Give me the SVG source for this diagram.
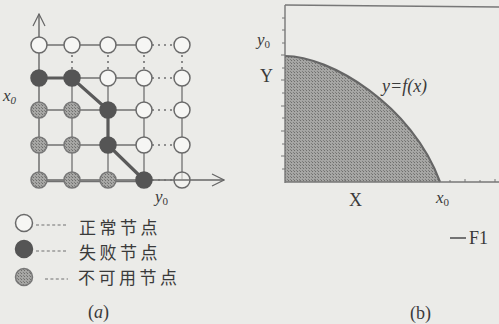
<svg xmlns="http://www.w3.org/2000/svg" width="499" height="324" viewBox="0 0 499 324">
<defs>
<pattern id="hatch" width="3" height="3" patternUnits="userSpaceOnUse">
<rect width="3" height="3" fill="#a6a6a4"/>
<rect width="1" height="1" fill="#6e6e6c"/>
<rect x="2" y="2" width="1" height="1" fill="#7e7e7c"/>
</pattern>
<marker id="open" viewBox="0 0 14 14" refX="13" refY="7" markerWidth="14" markerHeight="14" markerUnits="userSpaceOnUse" orient="auto">
<path d="M1,1 L13,7 L1,13" fill="none" stroke="#666" stroke-width="1.2"/>
</marker>
</defs>
<style>
.g{stroke:#707070;stroke-width:1.3;fill:none}
.d{stroke:#707070;stroke-width:1.6;fill:none;stroke-dasharray:2 4}
.ld{stroke:#707070;stroke-width:1.1;fill:none;stroke-dasharray:3 2.4}
.ok{fill:#f6f6f4;stroke:#6a6a6a;stroke-width:1.5}
.bad{fill:#555;stroke:#555;stroke-width:1.5}
.na{fill:url(#hatch);stroke:#777;stroke-width:1.5}
.path{stroke:#5a5a5a;stroke-width:3.2;fill:none}
.it{font-family:"Liberation Serif",serif;font-style:italic;fill:#3a3a3a}
.rm{font-family:"Liberation Serif",serif;fill:#3a3a3a}
.cn{font-family:"Noto Sans CJK SC",sans-serif;font-size:17px;letter-spacing:3.5px;fill:#3a3a3a}
.ax{stroke:#666;stroke-width:1.4;fill:none}
</style>
<rect width="499" height="324" fill="#ebebe8"/>

<g id="connectors">
<line class="ax" x1="39" y1="182" x2="39" y2="14" marker-end="url(#open)"/>
<line class="ax" x1="39" y1="180" x2="224" y2="180" marker-end="url(#open)"/>
<line class="g" x1="39" y1="45" x2="144" y2="45"/>
<line class="g" x1="39" y1="78" x2="144" y2="78"/>
<line class="g" x1="39" y1="110" x2="144" y2="110"/>
<line class="g" x1="39" y1="145" x2="144" y2="145"/>
<line class="d" x1="152" y1="45" x2="174" y2="45"/>
<line class="d" x1="152" y1="78" x2="174" y2="78"/>
<line class="d" x1="152" y1="110" x2="174" y2="110"/>
<line class="d" x1="152" y1="145" x2="174" y2="145"/>
<line class="d" x1="152" y1="180" x2="174" y2="180"/>
<line class="d" x1="72" y1="55" x2="72" y2="70"/>
<line class="d" x1="108" y1="55" x2="108" y2="70"/>
<line class="d" x1="144" y1="55" x2="144" y2="70"/>
<line class="d" x1="182" y1="55" x2="182" y2="70"/>
<line class="g" x1="72" y1="78" x2="72" y2="180"/>
<line class="g" x1="108" y1="78" x2="108" y2="180"/>
<line class="g" x1="144" y1="78" x2="144" y2="180"/>
<line class="g" x1="182" y1="78" x2="182" y2="180"/>
<polyline class="path" points="39,78 72,78 108,110 108,145 144,180"/>
<line class="g" x1="39" y1="181.5" x2="144" y2="181.5"/>
</g>

<g id="nodes-a">
<circle id="n11" class="ok" cx="39" cy="45" r="8"/>
<circle id="n12" class="ok" cx="72" cy="45" r="8"/>
<circle id="n13" class="ok" cx="108" cy="45" r="8"/>
<circle id="n14" class="ok" cx="144" cy="45" r="8"/>
<circle id="n15" class="ok" cx="182" cy="45" r="8"/>
<circle id="n21" class="bad" cx="39" cy="78" r="8"/>
<circle id="n22" class="bad" cx="72" cy="78" r="8"/>
<circle id="n23" class="ok" cx="108" cy="78" r="8"/>
<circle id="n24" class="ok" cx="144" cy="78" r="8"/>
<circle id="n25" class="ok" cx="182" cy="78" r="8"/>
<circle id="n31" class="na" cx="39" cy="110" r="8"/>
<circle id="n32" class="na" cx="72" cy="110" r="8"/>
<circle id="n33" class="bad" cx="108" cy="110" r="8"/>
<circle id="n34" class="ok" cx="144" cy="110" r="8"/>
<circle id="n35" class="ok" cx="182" cy="110" r="8"/>
<circle id="n41" class="na" cx="39" cy="145" r="8"/>
<circle id="n42" class="na" cx="72" cy="145" r="8"/>
<circle id="n43" class="bad" cx="108" cy="145" r="8"/>
<circle id="n44" class="ok" cx="144" cy="145" r="8"/>
<circle id="n45" class="ok" cx="182" cy="145" r="8"/>
<circle id="n51" class="na" cx="39" cy="180" r="8"/>
<circle id="n52" class="na" cx="72" cy="180" r="8"/>
<circle id="n53" class="na" cx="108" cy="180" r="8"/>
<circle id="n54" class="bad" cx="144" cy="180" r="8"/>
<circle id="n55" class="ok" cx="182" cy="180" r="8" fill-opacity="0.6"/>
<line class="g" x1="174" y1="180" x2="190" y2="180"/>
</g>

<g id="labels-a">
<text class="it" x="3" y="101" font-size="17">x<tspan font-size="11" dy="3">0</tspan></text>
<text class="it" x="155" y="202" font-size="17">y<tspan font-size="11" dy="3" font-style="normal">0</tspan></text>
</g>

<g id="legend">
<circle class="ok" cx="24" cy="223" r="8.5"/>
<line class="ld" x1="36" y1="225" x2="68" y2="225"/>
<text class="cn" x="79" y="234">正常节点</text>
<circle class="bad" cx="24" cy="249" r="8.5"/>
<line class="ld" x1="36" y1="251" x2="68" y2="251"/>
<text class="cn" x="79" y="259">失败节点</text>
<circle class="na" cx="24" cy="277" r="8.5"/>
<line class="ld" x1="45" y1="279" x2="68" y2="279"/>
<text class="cn" x="78" y="284">不可用节点</text>
<text class="rm" x="88" y="318" font-size="18">(<tspan font-style="italic">a</tspan>)</text>
</g>

<g id="plot-b">
<path d="M285,56 C330,56 412,105 440,182 L285,182 Z" fill="url(#hatch)" stroke="none"/>
<path d="M285,56 C330,56 412,105 440,182" fill="none" stroke="#666" stroke-width="2.2"/>
<line x1="285" y1="5" x2="499" y2="7" stroke="#777" stroke-width="1.3"/>
<line x1="285" y1="5" x2="285" y2="183" stroke="#777" stroke-width="1.4"/>
<line x1="285" y1="182" x2="499" y2="182" stroke="#777" stroke-width="1.4"/>
<path d="M282,18 h3 M282,30 h3 M282,43 h3 M281,55 h4 M282,68 h3 M281,80 h4 M282,93 h3 M281,106 h4 M282,118 h3 M281,131 h4 M282,144 h3 M281,156 h4 M282,169 h3" stroke="#777" stroke-width="1"/>
<path d="M300,182 v-2 M315,182 v-3 M330,182 v-2 M345,182 v-3 M360,182 v-2 M375,182 v-3 M390,182 v-2 M405,182 v-3 M420,182 v-2 M435,182 v-3 M450,182 v-2 M465,182 v-3 M480,182 v-2 M495,182 v-3" stroke="#777" stroke-width="1"/>
</g>

<g id="labels-b">
<text class="it" x="257" y="45" font-size="17">y<tspan font-size="11" dy="3" font-style="normal">0</tspan></text>
<text class="rm" x="260" y="82" font-size="18">Y</text>
<text class="it" x="382" y="92" font-size="18">y=f(x)</text>
<text class="rm" x="349" y="206" font-size="18">X</text>
<text class="it" x="436" y="203" font-size="17">x<tspan font-size="11" dy="3" font-style="normal">0</tspan></text>
<line x1="450" y1="238" x2="466" y2="238" stroke="#555" stroke-width="1.6"/>
<text class="rm" x="469" y="244" font-size="18">F1</text>
<text class="rm" x="410" y="319" font-size="18">(b)</text>
</g>
</svg>
